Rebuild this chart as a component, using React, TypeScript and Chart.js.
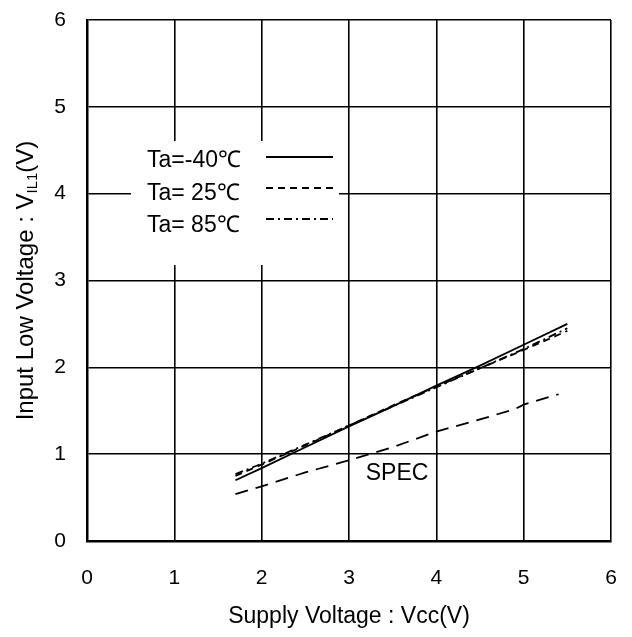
import { useEffect, useRef } from "react";
import { Chart, registerables } from "chart.js";

Chart.register(...registerables);

// Supply voltage Vcc (V) for measured curves
const supplyVoltage = [1.7, 2.0, 2.5, 3.0, 3.5, 4.0, 4.5, 5.0, 5.5];
// Input low voltage VIL1 (V)
const vilMinus40 = [0.7, 0.84, 1.08, 1.32, 1.55, 1.79, 2.02, 2.26, 2.5];
const vil25 = [0.75, 0.88, 1.1, 1.33, 1.56, 1.78, 1.99, 2.2, 2.42];
const vil85 = [0.77, 0.89, 1.11, 1.33, 1.55, 1.77, 1.99, 2.21, 2.45];
// SPEC line
const specVoltage = [1.7, 2.0, 2.5, 3.0, 3.5, 4.0, 4.5, 4.9, 5.0, 5.4];
const specVil = [0.54, 0.63, 0.79, 0.93, 1.08, 1.26, 1.4, 1.52, 1.57, 1.69];

const xTicks = [0, 1, 2, 3, 4, 5, 6];
const yTicks = [0, 1, 2, 3, 4, 5, 6];
const legendLabels = ["Ta=-40℃", "Ta= 25℃", "Ta= 85℃"];
const specLabel = "SPEC";
const xTitle = "Supply Voltage : Vcc(V)";
const yTitleMain = "Input Low Voltage : V";
const yTitleSub = "IL1";
const yTitleEnd = "(V)";

const FONT = "'Liberation Sans', Arial, Helvetica, sans-serif";

const toPts = (xs: number[], ys: number[]) => xs.map((x, i) => ({ x, y: ys[i] }));

const dashes: number[][] = [[], [7, 5], [8, 4, 2, 4]];

const overlayPlugin = {
  id: "overlay",
  beforeDatasetsDraw(chart: any) {
    const ctx = chart.ctx as CanvasRenderingContext2D;
    const xs = chart.scales.x;
    const ys = chart.scales.y;
    const area = chart.chartArea;
    ctx.save();
    ctx.fillStyle = "#000";
    // tick labels
    ctx.font = `21px ${FONT}`;
    ctx.textBaseline = "middle";
    ctx.textAlign = "right";
    yTicks.forEach((v) => ctx.fillText(String(v), 66, ys.getPixelForValue(v)));
    ctx.textAlign = "center";
    xTicks.forEach((v) => ctx.fillText(String(v), xs.getPixelForValue(v), 578));
    // white legend box covering grid
    ctx.fillStyle = "#fff";
    ctx.fillRect(131, 141, 208, 124);
    ctx.fillStyle = "#000";
    ctx.font = `23px ${FONT}`;
    ctx.textBaseline = "alphabetic";
    ctx.textAlign = "left";
    const rowBase = [167, 200, 232];
    const lineY = [157, 188, 219];
    legendLabels.forEach((lab, i) => {
      ctx.fillText(lab, 147, rowBase[i]);
      ctx.beginPath();
      ctx.setLineDash(dashes[i]);
      ctx.lineWidth = 1.8;
      ctx.strokeStyle = "#000";
      ctx.moveTo(266, lineY[i]);
      ctx.lineTo(333, lineY[i]);
      ctx.stroke();
    });
    ctx.setLineDash([]);
    // SPEC label
    ctx.font = `23px ${FONT}`;
    ctx.textAlign = "center";
    ctx.textBaseline = "middle";
    ctx.fillText(specLabel, xs.getPixelForValue(3.55), ys.getPixelForValue(0.78));
    // x title
    ctx.fillText(xTitle, (area.left + area.right) / 2, 617);
    // y title with subscript
    ctx.translate(24, (area.top + area.bottom) / 2);
    ctx.rotate(-Math.PI / 2);
    ctx.font = `24px ${FONT}`;
    const w1 = ctx.measureText(yTitleMain).width;
    ctx.font = `15px ${FONT}`;
    const w2 = ctx.measureText(yTitleSub).width;
    ctx.font = `24px ${FONT}`;
    const w3 = ctx.measureText(yTitleEnd).width;
    const total = w1 + w2 + w3;
    let px = -total / 2;
    ctx.textAlign = "left";
    ctx.textBaseline = "alphabetic";
    ctx.fillText(yTitleMain, px, 9);
    px += w1;
    ctx.font = `15px ${FONT}`;
    ctx.fillText(yTitleSub, px, 13);
    px += w2;
    ctx.font = `24px ${FONT}`;
    ctx.fillText(yTitleEnd, px, 9);
    ctx.restore();
  },
};

export default function App() {
  const ref = useRef<HTMLCanvasElement | null>(null);
  useEffect(() => {
    if (!ref.current) return;
    const lineDs = (label: string, ys: number[], dash: number[]) => ({
      label,
      data: toPts(supplyVoltage, ys),
      borderColor: "#000",
      borderWidth: 1.8,
      borderDash: dash,
      pointRadius: 0,
      fill: false,
      tension: 0,
    });
    const chart = new Chart(ref.current, {
      type: "line",
      data: {
        datasets: [
          lineDs(legendLabels[0], vilMinus40, dashes[0]),
          lineDs(legendLabels[1], vil25, dashes[1]),
          lineDs(legendLabels[2], vil85, dashes[2]),
          {
            label: specLabel,
            data: toPts(specVoltage, specVil),
            borderColor: "#000",
            borderWidth: 1.8,
            borderDash: [13, 8],
            pointRadius: 0,
            fill: false,
            tension: 0,
          },
        ],
      },
      options: {
        animation: false,
        responsive: false,
        devicePixelRatio: 1,
        layout: { padding: { left: 0, top: 20, right: 21, bottom: 0 } },
        plugins: { legend: { display: false }, tooltip: { enabled: false } },
        scales: {
          x: {
            type: "linear",
            min: 0,
            max: 6,
            afterBuildTicks: (s: any) => {
              s.ticks = xTicks.map((v) => ({ value: v }));
            },
            afterFit: (s: any) => {
              s.height = 96;
            },
            ticks: { display: false },
            grid: { color: "#000", lineWidth: 1.6, tickLength: 0, drawTicks: false },
            border: { color: "#000", width: 2.5 },
          },
          y: {
            type: "linear",
            min: 0,
            max: 6,
            afterBuildTicks: (s: any) => {
              s.ticks = yTicks.map((v) => ({ value: v }));
            },
            afterFit: (s: any) => {
              s.width = 87;
            },
            ticks: { display: false },
            grid: { color: "#000", lineWidth: 1.6, tickLength: 0, drawTicks: false },
            border: { color: "#000", width: 2.5 },
          },
        },
      },
      plugins: [overlayPlugin],
    } as any);
    return () => chart.destroy();
  }, []);
  return (
    <div style={{ position: "fixed", left: 0, top: 0, width: 632, height: 637, background: "#fff" }}>
      <canvas ref={ref} width={632} height={637} style={{ display: "block" }} />
    </div>
  );
}
